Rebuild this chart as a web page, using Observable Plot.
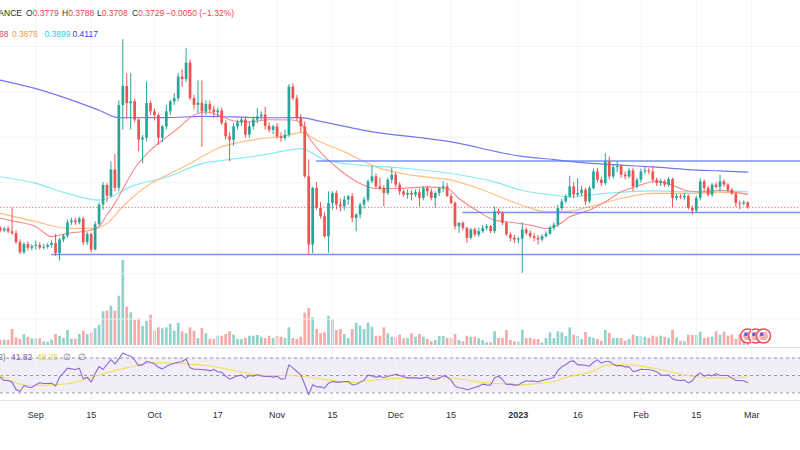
<!DOCTYPE html>
<html><head><meta charset="utf-8">
<script src="https://cdn.jsdelivr.net/npm/d3@7"></script>
<script src="https://cdn.jsdelivr.net/npm/@observablehq/plot@0.6"></script>
<style>
html,body{margin:0;padding:0;background:#fff;}
#chart{position:relative;width:800px;height:450px;overflow:hidden;background:#fff;font-family:"Liberation Sans",Arial,sans-serif;}
#chart svg{position:absolute;left:0;}
.lg{position:absolute;font-size:8.5px;line-height:10px;white-space:nowrap;}
</style></head><body><div id="chart"></div>
<script>
// ---------- DATA (daily candles, day 0 = 1 Sep 2022) ----------
const firstDay = -9;
const tickDays   = [0,14,30,46,61,75,91,105,122,137,153,167,181];
const tickLabels = ["Sep","15","Oct","17","Nov","15","Dec","15","2023","16","Feb","15","Mar"];
const gridPrices = [0.25,0.30,0.35,0.40,0.45,0.50,0.55];

const openP = [
.350,.347,.349,.346,.344,.334,.323,.332,.328,.330,
.331,.328,.329,.331,.333,.322,.337,.341,.356,.358,
.356,.360,.334,.343,.326,.354,.3755,.397,.385,.414,
.394,.485,.506,.487,.489,.469,.447,.449,.487,.478,
.474,.449,.4615,.478,.489,.4926,.5163,.5135,.5317,.4926,
.4852,.4875,.478,.486,.480,.477,.479,.4651,.4505,.4468,
.4615,.466,.469,.4523,.4615,.469,.4725,.4745,.462,.4577,
.4614,.4505,.4486,.4523,.5053,.4925,.4706,.4614,.4065,.3315,
.3937,.3717,.3626,.3406,.3772,.3882,.3754,.3736,.3809,.3846,
.3608,.3645,.3754,.3809,.4010,.4065,.3955,.3937,.3882,.4028,
.4083,.3973,.3900,.3864,.3882,.3864,.3891,.3827,.3937,.3900,
.3827,.3882,.3937,.3955,.3846,.3772,.3516,.3553,.3498,.3388,
.3480,.3425,.3461,.3498,.3516,.3462,.3681,.3663,.3553,.3425,
.3388,.3370,.3380,.3480,.3443,.3406,.3388,.3370,.3406,.3434,
.3497,.3534,.3717,.3790,.3845,.3955,.3864,.3882,.3918,.3790,
.3936,.4119,.4028,.3991,.4229,.4065,.4167,.4180,.4083,.4065,
.4131,.3955,.4028,.4119,.4131,.4119,.4028,.3991,.4010,.3973,
.4035,.3827,.3845,.3835,.3850,.3717,.3690,.3827,.4010,.3937,
.3863,.3973,.3950,.4010,.3975,.3918,.3875,.3772,.3766,.3779];
const highP = [
.352,.351,.352,.372,.347,.337,.334,.335,.332,.336,
.334,.332,.333,.336,.343,.339,.343,.359,.361,.361,
.362,.362,.345,.344,.357,.378,.400,.399,.423,.431,
.490,.5574,.520,.520,.492,.470,.452,.511,.490,.481,
.476,.463,.485,.491,.498,.520,.524,.5475,.535,.496,
.512,.512,.490,.490,.484,.482,.482,.468,.455,.465,
.469,.472,.4725,.466,.4725,.4815,.478,.483,.466,.4633,
.465,.455,.458,.508,.509,.496,.475,.467,.425,.395,
.400,.378,.367,.390,.390,.391,.382,.385,.386,.388,
.366,.3775,.384,.403,.4182,.410,.405,.397,.405,.416,
.411,.400,.392,.392,.391,.392,.393,.3955,.396,.393,
.390,.395,.401,.399,.388,.379,.356,.357,.351,.350,
.350,.350,.353,.354,.353,.3735,.371,.368,.357,.345,
.342,.340,.356,.350,.347,.344,.342,.343,.346,.352,
.356,.375,.382,.387,.4072,.400,.4046,.396,.394,.396,
.415,.416,.406,.4321,.4284,.420,.423,.420,.412,.416,
.416,.405,.415,.417,.416,.4182,.405,.404,.403,.406,
.405,.3875,.387,.388,.3865,.3745,.385,.4046,.403,.396,
.399,.400,.4083,.403,.399,.394,.389,.380,.380,.3788];
const lowP = [
.345,.345,.344,.342,.332,.321,.321,.325,.325,.326,
.326,.326,.327,.328,.319,.314,.334,.339,.353,.353,
.354,.331,.331,.323,.325,.352,.370,.378,.383,.390,
.390,.458,.470,.458,.466,.434,.421,.445,.474,.468,
.441,.444,.458,.474,.485,.489,.505,.510,.490,.480,
.476,.439,.474,.476,.471,.472,.463,.447,.423,.440,
.458,.462,.449,.449,.458,.465,.468,.458,.455,.453,
.448,.4445,.446,.450,.490,.468,.455,.405,.3205,.322,
.370,.360,.339,.3224,.370,.370,.368,.369,.375,.356,
.346,.360,.371,.378,.399,.393,.391,.3736,.386,.399,
.394,.386,.384,.382,.380,.384,.3736,.380,.385,.380,
.3717,.385,.389,.384,.376,.348,.3443,.347,.3333,.337,
.340,.340,.344,.347,.344,.344,.364,.353,.341,.335,
.333,.333,.3003,.342,.338,.335,.3314,.335,.339,.342,
.347,.351,.369,.377,.383,.382,.384,.385,.375,.377,
.392,.400,.396,.397,.403,.404,.411,.405,.403,.404,
.390,.393,.400,.409,.409,.399,.396,.396,.395,.395,
.3728,.380,.3815,.381,.370,.3644,.367,.380,.390,.384,
.384,.393,.390,.395,.389,.386,.3728,.3699,.3745,.3708];
const closeP = [
.347,.349,.346,.344,.334,.323,.332,.328,.330,.331,
.328,.329,.331,.333,.322,.337,.341,.356,.358,.356,
.360,.334,.343,.326,.354,.3755,.397,.385,.414,.394,
.485,.506,.487,.489,.469,.447,.449,.487,.478,.474,
.449,.4615,.478,.489,.4926,.5163,.5135,.5317,.4926,.4852,
.4875,.478,.486,.480,.477,.479,.4651,.4505,.4468,.4615,
.466,.469,.4523,.4615,.469,.4725,.4745,.462,.4577,.4614,
.4505,.4486,.4523,.5053,.4925,.4706,.4614,.4065,.3315,.3937,
.3717,.3626,.3406,.3772,.3882,.3754,.3736,.3809,.3846,.3608,
.3645,.3754,.3809,.4010,.4065,.3955,.3937,.3882,.4028,.4083,
.3973,.3900,.3864,.3882,.3864,.3891,.3827,.3937,.3900,.3827,
.3882,.3937,.3955,.3846,.3772,.3516,.3553,.3498,.3388,.3480,
.3425,.3461,.3498,.3516,.3462,.3681,.3663,.3553,.3425,.3388,
.3370,.3380,.3480,.3443,.3406,.3388,.3370,.3406,.3434,.3497,
.3534,.3717,.3790,.3845,.3955,.3864,.3882,.3918,.3790,.3936,
.4119,.4028,.3991,.4229,.4065,.4167,.4180,.4083,.4065,.4131,
.3955,.4028,.4119,.4131,.4119,.4028,.3991,.4010,.3973,.4035,
.3827,.3845,.3835,.3850,.3717,.3690,.3827,.4010,.3937,.3863,
.3973,.3950,.4010,.3975,.3918,.3875,.3772,.3766,.3779,.3729];
// volume, million XRP
const volumeM = [
100,106,106,320,154,120,220,166,134,134,
134,74,66,106,220,186,140,300,126,126,
220,286,220,254,334,406,674,686,786,686,
986,1700,766,654,506,534,386,486,606,286,
354,334,354,426,286,446,274,234,354,286,
140,340,234,120,120,186,186,220,274,206,
120,120,140,186,186,200,166,140,186,140,
186,166,140,354,140,120,166,646,740,554,
320,234,254,586,506,300,320,220,140,320,
446,386,320,446,366,186,186,354,234,166,
154,206,134,140,234,166,220,166,120,74,
100,180,180,140,140,220,100,74,186,166,
166,134,100,54,54,274,140,140,300,100,
74,74,306,140,140,120,120,54,140,254,
140,274,254,180,354,206,180,120,260,166,
140,120,86,300,240,140,140,140,86,120,
206,180,180,166,140,186,166,186,166,140,
306,154,86,74,206,206,206,266,140,154,
166,274,206,266,186,206,120,220,160,120];
const rsiVals = [
48.1,44.3,44.3,42.4,34,31.7,38.6,36.7,36.3,39.3,
41.6,40.9,40.9,41.2,37.8,48.1,53,58.4,57.6,56.9,
58.4,46.2,48.1,42.4,51.9,60.3,56.9,62.6,68.3,63.3,
69,75.9,73.6,72.1,67.5,61.4,62.2,66,65.2,63.3,
59.5,57.6,60.3,62.6,63.7,65.2,66,69,58.8,57.2,
57.2,56.9,56.5,55.3,56.9,54.2,53.8,49.2,45.8,47.7,
49.6,50.4,47,50,49.2,50.8,49.6,48.9,49.2,48.1,
49.2,45.8,46.2,62.2,58.8,54.6,50.8,39.7,27.9,39.3,
37,37,35.5,41.2,43.1,42.4,42.4,43.1,43.1,39.3,
39.7,42.4,44.7,50.4,49.6,48.1,48.9,47.7,49.2,50,
51.5,50,48.5,47.3,47.3,47.3,46.6,47.3,48.1,45.8,
45.4,47,49.6,48.5,44.7,37.8,35.9,35.5,33.6,34.8,
36.3,37.8,40.1,39.3,39,47.3,49.2,45.4,39.7,40.1,
39,39,42,43.9,43.5,43.5,42.8,44.3,45.4,46.6,
48.1,55.7,59.9,62.2,66,66.8,62.2,62.2,61.8,60.7,
65.2,67.9,64.1,66,66,63,61,61.4,59.9,59.9,
54.6,55.3,57.2,56.9,56.9,55.7,54.2,50.8,50,50.8,
46.2,44.7,44.3,44.7,41.6,43.9,50,53,49.2,50.8,
49.6,51.9,50,50,50,47,44.3,44.3,43.9,41.82];
const rsiMaDays = [-9,-6,-1,4,8,13,19,25,29,33,38,43,48,53,58,64,67,72,77,80,84,92,97,102,107,112,118,123,128,131,134,140,145,150,155,160,165,170,175,180];
const rsiMaVals = [50,43.1,38.6,39.3,40.5,46.2,54.6,60.7,64.5,64.5,63.3,61.4,57.6,53,50,50,49.2,46.2,43.1,41.6,43.9,47,47.7,47.7,46.2,42.4,40.5,39.3,41.6,43.1,47.7,53.8,62.2,62.2,59.5,54.6,50,47.3,47.3,48.25];
const rsiLevels = [70,50,30];

const ema20Days = [-9,-5,0,4,8,14,16,18,20,22,25,29,33,36,40,43,47,50,54,59,65,67,69,74,78,82,86,92,99,104,107,112,116,121,125,129,132,135,140,144,148,152,157,161,165,169,173,180];
const ema20Vals = [0.3609,0.3572,0.3517,0.3407,0.3443,0.3480,0.3517,0.3650,0.3773,0.3930,0.4157,0.4358,0.4500,0.4600,0.4742,0.4779,0.4730,0.4680,0.4670,0.4694,0.4690,0.4660,0.4504,0.4248,0.4102,0.3992,0.3937,0.3937,0.3955,0.3937,0.3827,0.3680,0.3589,0.3560,0.3534,0.3497,0.3534,0.3625,0.3699,0.3790,0.3900,0.3962,0.4020,0.3973,0.3910,0.3900,0.3918,0.3868];
const ema50Days = [-9,0,8,15,18,22,29,33,39,46,56,64,67,71,78,86,95,105,112,123,129,135,140,148,156,165,173,180];
const ema50Vals = [0.3663,0.3572,0.3498,0.3498,0.3553,0.3740,0.3990,0.4080,0.4212,0.4380,0.4480,0.4523,0.4555,0.4468,0.4340,0.4175,0.4083,0.4028,0.3937,0.3750,0.3680,0.3688,0.3735,0.3827,0.3882,0.3882,0.3896,0.3878];
const ema100Days = [-9,0,8,16,25,33,42,48,57,64,67,73,82,91,105,116,123,131,135,144,156,165,173,180];
const ema100Vals = [0.4066,0.3993,0.3882,0.3809,0.3974,0.4060,0.4211,0.4250,0.4303,0.4358,0.4376,0.4255,0.4193,0.4168,0.4102,0.4010,0.3915,0.3863,0.3845,0.3882,0.3910,0.3900,0.3910,0.3899];
const ema200Days = [-9,0,8,16,21,33,42,50,59,67,72,83,105,123,131,139,148,156,165,173,180];
const ema200Vals = [0.5130,0.5036,0.4926,0.4798,0.4715,0.4717,0.4730,0.4724,0.4715,0.4716,0.4675,0.4577,0.4449,0.4290,0.4255,0.4218,0.4193,0.4174,0.4145,0.4130,0.4117];

const levelPrices = [0.3211, 0.4240, 0.3673];
const levelStartDays = [4, 71, 108];
const eventDays = [180, 182, 184];

// ---------- LAYOUT ----------
const UP = "#26a69a", DOWN = "#ef5350";
const xDomain = [-8.925, 193.35];
const priceDomain = [0.2198, 0.60055];
const rsiDomain = [21.35, 82.09];
const GRID = "#f0f3fa";

const rows = openP.map((o, i) => ({
  day: firstDay + i, open: o, high: highP[i], low: lowP[i], close: closeP[i],
  vol: volumeM[i], rsi: rsiVals[i]
}));
const col = d => d.close >= d.open ? UP : DOWN;
const pts = (days, vals) => days.map((d, i) => ({day: d, v: vals[i]}));
const levels = levelPrices.map((p, i) => ({price: p, start: levelStartDays[i]}));

const root = document.getElementById("chart");
function place(svg, top) { svg.style.top = top + "px"; root.appendChild(svg); }

// Volume (overlay at bottom of price pane)
const volPlot = Plot.plot({
  width: 800, height: 100, margin: 0,
  x: {domain: xDomain, axis: null},
  y: {domain: [0, 2000], axis: null},
  style: {background: "transparent"},
  marks: [
    Plot.ruleX(rows, {x: "day", y1: 0, y2: "vol", stroke: d => col(d) === UP ? "#92d2cc" : "#f7a9a7", strokeWidth: 2.7}),
    ...eventDays.flatMap(e => [
      Plot.dot([e], {x: d => d, frameAnchor: "bottom", dy: -9.5, r: 7, fill: "#fff", stroke: "#f0505a", strokeWidth: 1.6}),
      Plot.dot([e], {x: d => d, frameAnchor: "bottom", dy: -9.5, r: 4.6, fill: "#f6b3b5"}),
      Plot.dot([e], {x: d => d, frameAnchor: "bottom", dy: -11.2, dx: -1.8, r: 1.8, symbol: "square", fill: "#4a63e0"})
    ])
  ]
});
place(volPlot, 244.5);

// Price pane
const mainPlot = Plot.plot({
  width: 800, height: 346, margin: 0,
  x: {domain: xDomain, axis: null},
  y: {domain: priceDomain, axis: null},
  style: {background: "transparent"},
  marks: [
    Plot.ruleY(gridPrices, {stroke: GRID, strokeOpacity: 0.9}),
    Plot.ruleX(tickDays, {stroke: GRID, strokeOpacity: 0.9}),
    Plot.line(pts(ema200Days, ema200Vals), {x: "day", y: "v", stroke: "#7676f0", strokeWidth: 1.2, curve: "monotone-x"}),
    Plot.line(pts(ema100Days, ema100Vals), {x: "day", y: "v", stroke: "#86ecf2", strokeWidth: 1.2, curve: "monotone-x"}),
    Plot.line(pts(ema50Days, ema50Vals), {x: "day", y: "v", stroke: "#ffbe84", strokeWidth: 1.2, curve: "monotone-x"}),
    Plot.line(pts(ema20Days, ema20Vals), {x: "day", y: "v", stroke: "#f58a8a", strokeWidth: 1.1, curve: "monotone-x"}),
    Plot.ruleY(levels, {y: "price", x1: "start", x2: () => xDomain[1], stroke: "#5f80f7", strokeWidth: 1.6, strokeOpacity: 0.85}),
    Plot.ruleY([closeP[closeP.length - 1]], {stroke: "#f06a72", strokeDasharray: "1.2 2", strokeWidth: 1}),
    Plot.ruleX(rows, {x: "day", y1: "low", y2: "high", stroke: col, strokeWidth: 1}),
    Plot.ruleX(rows, {x: "day", y1: "open", y2: "close", stroke: col, strokeWidth: 2.7})
  ]
});
place(mainPlot, 0);

// RSI pane + date axis
const rsiPlot = Plot.plot({
  width: 800, height: 103, marginTop: 0, marginBottom: 50, marginLeft: 0, marginRight: 0,
  x: {domain: xDomain, ticks: tickDays, tickFormat: d => tickLabels[tickDays.indexOf(d)], tickSize: 0, tickPadding: 11, label: null},
  y: {domain: rsiDomain, axis: null},
  style: {background: "transparent", fontFamily: "Liberation Sans, Arial, sans-serif", fontSize: "9px", color: "#2a2e39"},
  marks: [
    Plot.rect([{lo: rsiLevels[2], hi: rsiLevels[0]}], {x1: () => xDomain[0], x2: () => xDomain[1], y1: "lo", y2: "hi", fill: "#7e57c2", fillOpacity: 0.1}),
    Plot.ruleX(tickDays, {stroke: GRID}),
    Plot.ruleY(rsiLevels, {stroke: "#787b86", strokeDasharray: "3 3", strokeOpacity: 0.75}),
    Plot.ruleY([rsiDomain[1]], {stroke: "#e0e3eb"}),
    Plot.ruleY([rsiDomain[0]], {stroke: "#e0e3eb"}),
    Plot.line(pts(rsiMaDays, rsiMaVals), {x: "day", y: "v", stroke: "#f2e05a", strokeWidth: 1.1, curve: "monotone-x"}),
    Plot.line(rows, {x: "day", y: "rsi", stroke: "#8c6bd1", strokeWidth: 1.1})
  ]
});
place(rsiPlot, 347);
d3.select(rsiPlot).selectAll("text").filter(function(){ return this.textContent === "2023"; }).attr("font-weight", "bold");

// ---------- Legends (HTML) ----------
function label(parts, x, cy, right) {
  const el = document.createElement("div");
  el.className = "lg";
  for (const [text, color] of parts) {
    const s = document.createElement("span");
    s.textContent = text; s.style.color = color;
    el.appendChild(s);
  }
  el.style.top = (cy - 5) + "px";
  if (right) el.style.right = (800 - x) + "px"; else el.style.left = x + "px";
  root.appendChild(el);
}
const dark = "#2a2e39", red = "#f0434f", gray = "#787b86";
const ohlc = [["O", 0.3779], ["H", 0.3788], ["L", 0.3708], ["C", 0.3729]];
const ohlcX = [26, 62, 97, 132];
label([["XRPUSDT \u00b7 1D \u00b7 BINANCE", dark]], 22, 12.7, true);
ohlc.forEach(([k, v], i) => label([[k, dark], [v.toFixed(4), red]], ohlcX[i], 12.7));
label([["\u22120.0050 (\u22121.32%)", red]], 166, 12.7);
label([[ema20Vals[ema20Vals.length-1].toFixed(4), red]], 8.5, 34.3, true);
label([[ema50Vals[ema50Vals.length-1].toFixed(4), "#ff9a3c"]], 12, 34.3);
label([[ema100Vals[ema100Vals.length-1].toFixed(4), "#22d3e6"]], 44.5, 34.3);
label([[ema200Vals[ema200Vals.length-1].toFixed(4), "#3d3df0"]], 72.5, 34.3);
label([["RSI (14, close, 0, SMA, 14, 2)", gray]], 5.5, 357, true);
label([[rsiVals[rsiVals.length-1].toFixed(2), "#7e57c2"]], 11, 357);
label([[rsiMaVals[rsiMaVals.length-1].toFixed(2), "#e6d23a"]], 37, 357);
label([["\u2205", gray]], 62.5, 357);
label([["\u2205", gray]], 77.5, 357);
</script></body></html>
